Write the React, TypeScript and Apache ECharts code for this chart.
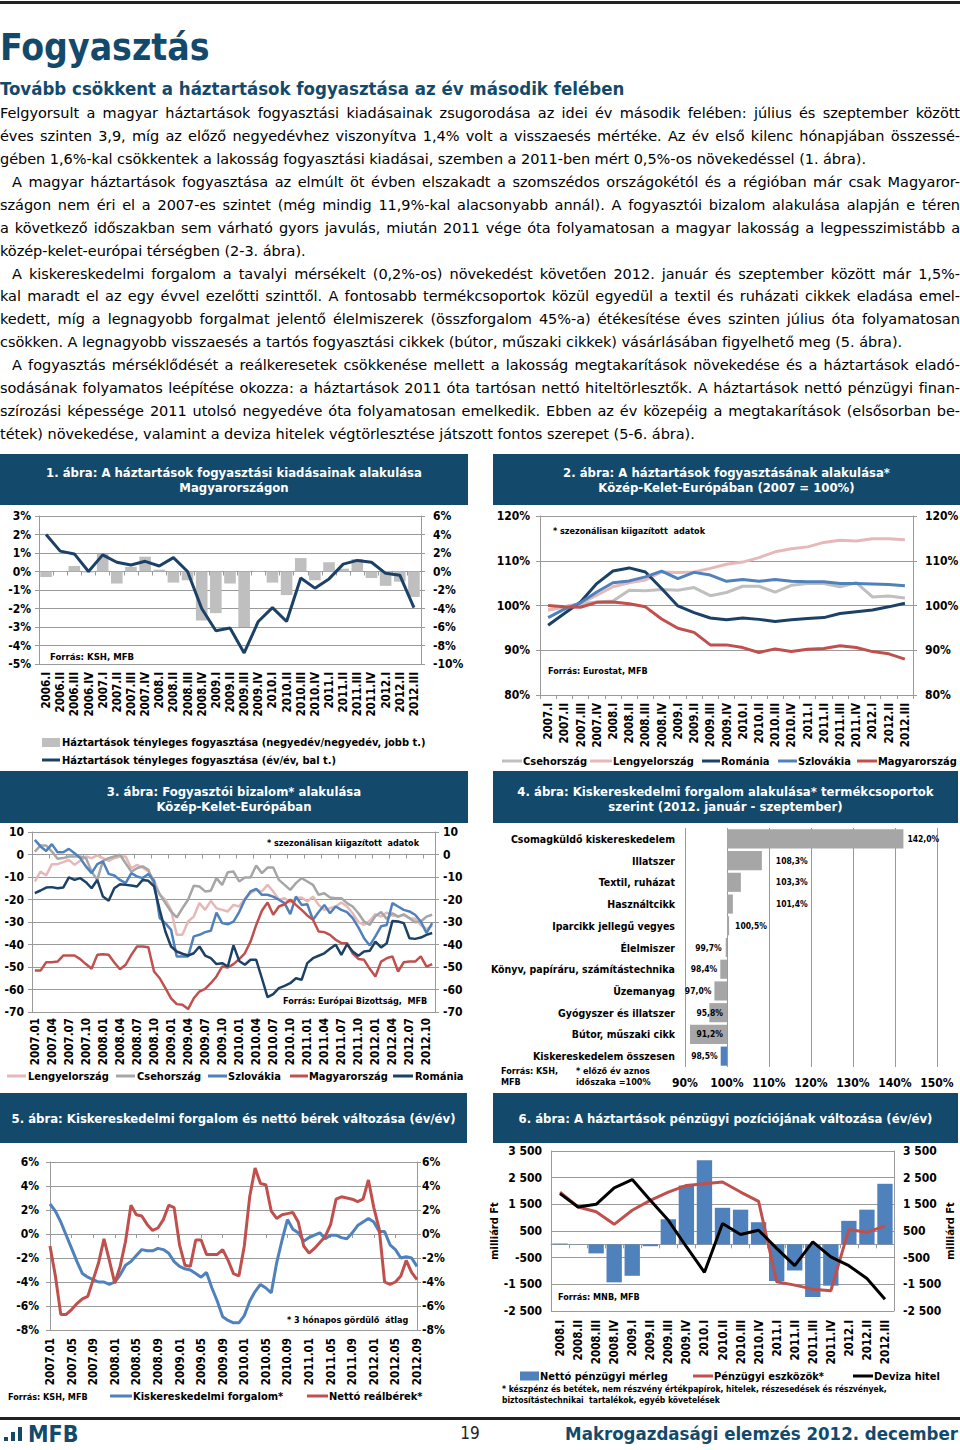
import React, { useEffect, useRef } from "react";
import * as echarts from "echarts";

const FONT = '"DejaVu Sans Condensed", "DejaVu Sans", sans-serif';
const BODY_FONT = '"DejaVu Sans", Verdana, sans-serif';
const NAVY = "#134a6b";
const GRID = "#9a9a9a";
const C_NAVY = "#1c4166";
const C_BLUE = "#4f81bd";
const C_RED = "#c0504d";
const C_PINK = "#e6b9b8";
const C_GRAY = "#bfbfbf";
const C_GRAY2 = "#a6a6a6";

// ---------- 1. ábra
const c1Quarters = ["2006.I","2006.II","2006.III","2006.IV","2007.I","2007.II","2007.III","2007.IV","2008.I","2008.II","2008.III","2008.IV","2009.I","2009.II","2009.III","2009.IV","2010.I","2010.II","2010.III","2010.IV","2011.I","2011.II","2011.III","2011.IV","2012.I","2012.II","2012.III"];
const c1QoQ = [-0.6, 0.05, 0.6, -0.1, 1.9, -1.3, 0.5, 1.6, 0.2, -1.2, -0.95, -5.3, -4.5, -1.3, -6.0, -0.05, -1.2, -2.55, 1.45, -0.95, 1.0, 0.3, 1.35, -0.7, -1.55, -1.1, -2.75];
const c1YoY = [2.0, 1.1, 0.95, 0.0, 0.9, 0.5, 0.35, 0.55, 0.3, 0.75, 0.0, -2.0, -3.2, -3.05, -4.4, -2.7, -1.95, -2.7, -0.35, -0.9, -0.4, 0.4, 0.6, 0.5, -0.1, -0.2, -1.95];

// ---------- 2. ábra
const c2Quarters = ["2007.I","2007.II","2007.III","2007.IV","2008.I","2008.II","2008.III","2008.IV","2009.I","2009.II","2009.III","2009.IV","2010.I","2010.II","2010.III","2010.IV","2011.I","2011.II","2011.III","2011.IV","2012.I","2012.II","2012.III"];
const c2Cseh = [99.0, 99.7, 100.4, 100.8, 101.0, 103.4, 103.3, 103.6, 103.4, 104.0, 102.2, 102.9, 104.3, 104.3, 103.0, 104.5, 104.9, 104.9, 104.2, 105.1, 101.9, 102.1, 101.7];
const c2Lengyel = [99.0, 99.7, 100.4, 102.3, 104.2, 105.1, 105.7, 107.5, 107.4, 107.5, 108.3, 109.2, 109.7, 110.7, 112.0, 112.7, 113.1, 114.1, 114.6, 114.4, 114.9, 114.9, 114.7];
const c2Romania = [95.6, 98.2, 100.8, 104.9, 107.7, 108.4, 107.5, 103.8, 99.9, 98.4, 97.2, 96.8, 97.2, 96.9, 96.4, 96.8, 97.1, 97.3, 98.2, 98.6, 99.0, 99.7, 100.5];
const c2Szlovakia = [97.3, 99.2, 100.6, 103.0, 105.1, 105.5, 106.4, 107.7, 106.0, 107.4, 106.8, 105.4, 105.8, 105.4, 105.8, 105.4, 105.3, 105.3, 104.9, 104.9, 104.8, 104.7, 104.4];
const c2Magyar = [100.0, 99.7, 99.6, 100.7, 100.8, 100.4, 99.7, 97.0, 94.9, 94.0, 91.2, 91.2, 90.6, 89.5, 90.3, 89.7, 90.2, 90.4, 91.0, 90.6, 89.7, 89.2, 88.0];

// ---------- month labels
function monthLabels(y0: number, m0: number, count: number) {
  const out: string[] = [];
  let y = y0, m = m0;
  for (let i = 0; i < count; i++) {
    out.push(y + "." + (m < 10 ? "0" + m : "" + m));
    m++;
    if (m > 12) { m = 1; y++; }
  }
  return out;
}

// ---------- 3. ábra (2007.01 - 2012.11)
const c3Months = monthLabels(2007, 1, 71);
const c3Lengyel = [-12, -7.6, -9.3, -4.3, -4.3, -3.4, -2.4, -4.6, -2.8, -0.9, -1.6, -0.4, -1.6, -2.8, -1.6, -0.9, -0.9, -6.1, -4.6, -5.8, -7.6, -11.3, -17.9, -20.1, -24.6, -35.7, -35.7, -29.8, -27.6, -21.6, -24.6, -20.6, -23.9, -24.6, -25.3, -22.4, -23.1, -19.7, -17.2, -15.7, -16.4, -13.5, -16.4, -20.1, -19.4, -21.3, -19.4, -19.1, -20.9, -18.7, -22.4, -24.6, -23.9, -23.1, -21.3, -23.1, -26.1, -30.1, -31.3, -29.5, -26.5, -27.6, -25.8, -27.1, -27.6, -26.5, -28.3, -28.6, -31.3, -33.2, -31.6];
const c3Cseh = [1.3, 4, 4, 1.3, -1.9, -1.6, -0.9, -0.9, -0.9, -1.6, -7.6, -11.3, -2.8, -1.6, -0.9, -0.1, -3.9, -7.6, -6.1, -5.3, -6.8, -13.2, -17.6, -21.6, -25.3, -28, -23.9, -20.1, -13.9, -14.2, -16.4, -16.1, -10.5, -13.5, -7.9, -7.6, -12, -10.2, -10.2, -4.9, -8.3, -5.8, -5.8, -11.3, -13.5, -15.7, -12.7, -10.5, -12, -13.5, -17.9, -17.2, -19.1, -19.4, -19.4, -21.6, -23.1, -26.1, -29.8, -31.3, -27.4, -25.6, -28.6, -26.1, -27.6, -26.8, -28.3, -30.1, -29.8, -27.6, -26.8];
const c3Szlovakia = [6.5, 3.6, 1.6, 4.6, 1, 1, 2.5, 0.6, -1.6, -5.3, -8.3, -4.3, -3.1, -8.6, -9.3, -11.3, -12.7, -8.3, -9.8, -10.5, -8.7, -11.7, -28.3, -30.5, -33.5, -45.3, -45.3, -45.3, -36.4, -35.7, -34.5, -33.9, -25.8, -30.5, -31, -29.8, -25.6, -20.1, -16.4, -15.3, -17.9, -17.9, -18.7, -20.1, -21.6, -26.5, -18.7, -22.4, -22.1, -29, -25.6, -22.4, -26.1, -23.1, -24.6, -25.6, -28.3, -32.4, -37.2, -40.4, -36.4, -31.9, -31.3, -21.6, -23.1, -24.6, -25.3, -26.8, -29.8, -34.9, -30.5];
const c3Magyar = [-51.6, -51.6, -47.9, -47.9, -47.6, -44.9, -44.9, -44.9, -46.5, -48.7, -50.8, -44.6, -44.3, -44.6, -48, -51, -49, -44.6, -40.9, -40.9, -41.2, -52, -55, -59.4, -63.9, -66.5, -66.8, -68.7, -63.9, -60.9, -59.7, -57.2, -54.2, -49.8, -50.2, -48.7, -46.5, -43.9, -38.7, -31.3, -25, -21.3, -26.8, -23.1, -22.1, -20.1, -22.4, -24.6, -27.1, -29, -34.2, -34.5, -35.7, -37.9, -39.4, -39.4, -43.9, -46.4, -46.8, -50.8, -54.2, -47.6, -46.1, -45.3, -52, -47.9, -47.6, -47.6, -45.3, -49.8, -48.7];
const c3Romania = [-17.2, -16, -14.7, -14.5, -15, -14.7, -10.2, -11.3, -10.5, -12.3, -15, -11.3, -18.7, -20.6, -15, -13.2, -13.5, -13.8, -14.2, -11.3, -11.7, -14.2, -24.6, -34.2, -40.9, -43.1, -44.1, -44.9, -43.9, -40.9, -44.9, -46.1, -48.7, -48.3, -49.8, -40.4, -47.3, -49, -46.8, -46.8, -55, -63.4, -62.1, -59.4, -58.4, -57.2, -55, -55.7, -48.3, -46.1, -45, -43.9, -41.9, -40.1, -44.6, -39.9, -43.1, -45, -43.1, -42.8, -38.7, -41.3, -39.4, -29.5, -29.8, -30.5, -37.2, -37.5, -36.9, -35.7, -34.9];

// ---------- 4. ábra
const c4Categories = ["Csomagküldő kiskereskedelem", "Illatszer", "Textil, ruházat", "Használtcikk", "Iparcikk jellegű vegyes", "Élelmiszer", "Könyv, papíráru, számítástechnika", "Üzemanyag", "Gyógyszer és illatszer", "Bútor, műszaki cikk", "Kiskereskedelem összesen"];
const c4Values = [142.0, 108.3, 103.3, 101.4, 100.5, 99.7, 98.4, 97.0, 95.8, 91.2, 98.5];
const c4Base = 100;

// ---------- 5. ábra (2007.01 - 2012.09)
const c5Months = monthLabels(2007, 1, 69);
const c5Retail = [2.5, 1.9, 1.0, -0.1, -1.2, -2.3, -3.3, -3.6, -3.8, -4.0, -4.0, -4.2, -4.0, -3.4, -2.6, -2.3, -1.8, -1.3, -1.4, -1.4, -1.2, -1.3, -1.6, -2.3, -2.7, -2.9, -3.0, -3.3, -3.6, -3.2, -4.5, -5.6, -6.9, -7.2, -7.4, -7.4, -6.8, -5.6, -4.8, -4.2, -4.5, -4.9, -2.4, -0.5, 1.2, 0.4, 0.1, -0.6, -0.3, -0.1, 0.1, -0.4, -0.1, -0.1, -0.3, -0.4, 0.1, 0.7, 1.0, 1.3, 1.0, 0.2, 0.2, -0.9, -1.3, -2.0, -1.9, -2.0, -2.7];
const c5Wages = [-1.0, -3.5, -6.7, -6.7, -6.3, -5.8, -5.4, -5.2, -3.8, -2.4, -0.4, -2.2, -4.1, -2.7, -0.6, 2.4, 1.6, 1.5, 0.8, 0.3, 0.5, 1.2, 2.4, 2.2, -0.9, -2.6, -2.7, -0.5, -0.5, -1.7, -1.7, -1.7, -1.3, -2.2, -3.3, -3.5, -1.0, 3.1, 5.5, 4.2, 4.1, 1.9, 1.3, 1.6, 1.7, 1.8, 1.0, -1.0, -1.6, -1.2, -0.7, -0.2, 0.8, 2.9, 3.1, 3.0, 2.9, 2.7, 2.9, 4.5, 2.2, 0.4, -4.0, -4.2, -4.0, -3.5, -2.2, -3.2, -3.8];

// ---------- 6. ábra
const c6Quarters = ["2008.I","2008.II","2008.III","2008.IV","2009.I","2009.II","2009.III","2009.IV","2010.I","2010.II","2010.III","2010.IV","2011.I","2011.II","2011.III","2011.IV","2012.I","2012.II","2012.III"];
const c6Net = [30, 10, -340, -1425, -1180, -70, 940, 2210, 3150, 1370, 1300, 830, -1375, -980, -1975, -1550, 880, 1300, 2270];
const c6Assets = [1960, 1400, 1220, 750, 1280, 1650, 1960, 2210, 2275, 2340, 1960, 1610, -1400, -1530, -1680, -1740, 560, 450, 690];
const c6FxLoans = [1900, 1400, 1500, 2120, 2430, 1650, 900, -90, -1050, 780, 370, 530, -150, -800, 90, -470, -800, -1280, -2060];

// ---------- text of the page
const bodyLines: [string, boolean, number][] = [
  ["Felgyorsult a magyar háztartások fogyasztási kiadásainak zsugorodása az idei év második felében: július és szeptember között", true, 0],
  ["éves szinten 3,9, míg az előző negyedévhez viszonyítva 1,4% volt a visszaesés mértéke. Az év első kilenc hónapjában összessé-", true, 0],
  ["gében 1,6%-kal csökkentek a lakosság fogyasztási kiadásai, szemben a 2011-ben mért 0,5%-os növekedéssel (1. ábra).", false, 0],
  ["A magyar háztartások fogyasztása az elmúlt öt évben elszakadt a szomszédos országokétól és a régióban már csak Magyaror-", true, 12],
  ["szágon nem éri el a 2007-es szintet (még mindig 11,9%-kal alacsonyabb annál). A fogyasztói bizalom alakulása alapján e téren", true, 0],
  ["a következő időszakban sem várható gyors javulás, miután 2011 vége óta folyamatosan a magyar lakosság a legpesszimistább a", true, 0],
  ["közép-kelet-európai térségben (2-3. ábra).", false, 0],
  ["A kiskereskedelmi forgalom a tavalyi mérsékelt (0,2%-os) növekedést követően 2012. január és szeptember között már 1,5%-", true, 12],
  ["kal maradt el az egy évvel ezelőtti szinttől. A fontosabb termékcsoportok közül egyedül a textil és ruházati cikkek eladása emel-", true, 0],
  ["kedett, míg a legnagyobb forgalmat jelentő élelmiszerek (összforgalom 45%-a) étékesítése éves szinten július óta folyamatosan", true, 0],
  ["csökken. A legnagyobb visszaesés a tartós fogyasztási cikkek (bútor, műszaki cikkek) vásárlásában figyelhető meg (5. ábra).", false, 0],
  ["A fogyasztás mérséklődését a reálkeresetek csökkenése mellett a lakosság megtakarítások növekedése és a háztartások eladó-", true, 12],
  ["sodásának folyamatos leépítése okozza: a háztartások 2011 óta tartósan nettó hiteltörlesztők. A háztartások nettó pénzügyi finan-", true, 0],
  ["szírozási képessége 2011 utolsó negyedéve óta folyamatosan emelkedik. Ebben az év közepéig a megtakarítások (elsősorban be-", true, 0],
  ["tétek) növekedése, valamint a deviza hitelek végtörlesztése játszott fontos szerepet (5-6. ábra).", false, 0],
];

// ---------- helpers
const lbl = (size: number) => ({ fontFamily: FONT, fontWeight: "bold", fontSize: size, color: "#000" });

function gText(x: number, y: number, text: string, size: number, o: any = {}) {
  const align = o.align || "left";
  return {
    type: "text", x, y, silent: true, rotation: o.rotation || 0,
    style: {
      text, fill: o.color || "#000",
      font: `${o.weight || "bold"} ${size}px ${FONT}`,
      align, verticalAlign: "middle", textAlign: align, textVerticalAlign: "middle",
    },
  };
}
const gLine = (x1: number, x2: number, y: number, color: string, w = 3) => ({
  type: "line", silent: true, shape: { x1, y1: y, x2, y2: y }, style: { stroke: color, lineWidth: w },
});
const gRect = (x: number, y: number, w: number, h: number, fill: string) => ({
  type: "rect", silent: true, shape: { x, y, width: w, height: h }, style: { fill },
});
function banner(x: number, y: number, w: number, h: number, lines: string[], ys: number[]) {
  const els: any[] = [gRect(x, y, w, h, NAVY)];
  lines.forEach((t, i) => els.push(gText(x + w / 2, ys[i], t, 13, { align: "center", color: "#fff" })));
  return els;
}

function thousands(v: number) {
  const s = Math.abs(v).toString().replace(/\B(?=(\d{3})+(?!\d))/g, " ");
  return (v < 0 ? "-" : "") + s;
}
const pctComma = (v: number) => v.toFixed(1).replace(".", ",") + "%";

function valAxis(gridIndex: number, position: string, min: number, max: number, interval: number, formatter: any, margin: number, split: boolean) {
  return {
    type: "value", gridIndex, position, min, max, interval,
    axisLine: { show: true, onZero: false, lineStyle: { color: GRID } },
    axisTick: { show: true, length: 4, lineStyle: { color: GRID } },
    axisLabel: { ...lbl(12), formatter, margin },
    splitLine: { show: split, lineStyle: { color: GRID, width: 1 } },
  };
}
function labelAxis(gridIndex: number, data: string[], interval: number, margin: number, showLine: boolean, boundaryGap = true) {
  return {
    type: "category", gridIndex, data, position: "bottom", boundaryGap,
    axisLine: { show: showLine, onZero: false, lineStyle: { color: GRID } },
    axisTick: { show: showLine, length: 4, interval, lineStyle: { color: GRID } },
    axisLabel: { ...lbl(11.5), rotate: 90, interval, margin },
    splitLine: { show: false },
  };
}
function zeroAxis(gridIndex: number, data: string[], tickInterval: number, boundaryGap = true) {
  return {
    type: "category", gridIndex, data, position: "bottom", boundaryGap,
    axisLine: { show: true, onZero: true, lineStyle: { color: GRID } },
    axisTick: { show: true, length: 4, interval: tickInterval, lineStyle: { color: GRID } },
    axisLabel: { show: false },
    splitLine: { show: false },
  };
}
const lineSeries = (name: string, xi: number, yi: number, data: number[], color: string, width = 3) => ({
  type: "line", name, xAxisIndex: xi, yAxisIndex: yi, data, symbol: "none", showSymbol: false,
  lineStyle: { color, width }, itemStyle: { color }, silent: true,
});

const c4LabelPos = ["right", "right", "right", "right", "right", "left", "left", "left", "insideRight", "insideRight", "left"];
const c4LabelDist = [4, 14, 35, 43, 6, 4, 3, 3, 4, 4, 3];

function buildOption() {
  const grids = [
    { left: 39, top: 516, width: 382, height: 148 },   // 0: 1. ábra
    { left: 540, top: 516, width: 373, height: 179 },  // 1: 2. ábra
    { left: 32, top: 832, width: 403, height: 180 },   // 2: 3. ábra
    { left: 685, top: 828, width: 252, height: 239 },  // 3: 4. ábra
    { left: 50, top: 1162, width: 367, height: 168 },  // 4: 5. ábra
    { left: 551, top: 1151, width: 343, height: 160 }, // 5: 6. ábra
  ].map((g) => ({ ...g, containLabel: false, outerBoundsMode: "none" }));

  const xAxis: any[] = [
    labelAxis(0, c1Quarters, 0, 8, false),          // 0
    zeroAxis(0, c1Quarters, 0),                     // 1
    labelAxis(1, c2Quarters, 0, 8, true),           // 2
    labelAxis(2, c3Months, 2, 6, false),            // 3
    zeroAxis(2, c3Months, 2),                       // 4
    {                                               // 5
      type: "value", gridIndex: 3, position: "bottom", min: 90, max: 150, interval: 10,
      axisLine: { show: false }, axisTick: { show: false },
      axisLabel: { ...lbl(12), formatter: "{value}%", margin: 10 },
      splitLine: { show: true, lineStyle: { color: GRID } },
    },
    labelAxis(4, c5Months, 3, 8, false, false),     // 6
    zeroAxis(4, c5Months, 3, false),                // 7
    labelAxis(5, c6Quarters, 0, 9, false),          // 8
    zeroAxis(5, c6Quarters, 0),                     // 9
  ];

  const c6Fmt = (v: number) => ((v + 2500) % 1000 === 0 ? thousands(v) : "");
  const c6y = (position: string, gap: number) => ({
    type: "value", gridIndex: 5, position, min: -2500, max: 3500, interval: 500,
    axisLine: { show: true, onZero: false, lineStyle: { color: GRID } },
    axisTick: { show: false },
    axisLabel: { ...lbl(12), formatter: c6Fmt, margin: 9 },
    splitLine: { show: position === "left", lineStyle: { color: [GRID, "transparent"], width: 1 } },
    name: "milliárd Ft", nameLocation: "middle", nameRotate: 90, nameGap: gap,
    nameTextStyle: { ...lbl(11) },
  });

  const yAxis: any[] = [
    valAxis(0, "left", -5, 3, 1, "{value}%", 8, true),       // 0
    valAxis(0, "right", -10, 6, 2, "{value}%", 12, false),   // 1
    valAxis(1, "left", 80, 120, 10, "{value}%", 10, true),   // 2
    valAxis(1, "right", 80, 120, 10, "{value}%", 12, false), // 3
    valAxis(2, "left", -70, 10, 10, "{value}", 8, true),     // 4
    valAxis(2, "right", -70, 10, 10, "{value}", 8, false),   // 5
    {                                                        // 6
      type: "category", gridIndex: 3, data: c4Categories, inverse: true,
      axisLine: { show: false }, axisTick: { show: false },
      axisLabel: { ...lbl(10.5), margin: 10 }, splitLine: { show: false },
    },
    valAxis(4, "left", -8, 6, 2, "{value}%", 11, true),      // 7
    valAxis(4, "right", -8, 6, 2, "{value}%", 5, false),     // 8
    c6y("left", 40),                                         // 9
    c6y("right", 51),                                        // 10
  ];

  const c4Last = c4Values.length - 1;
  const series: any[] = [
    // 1. ábra
    { type: "bar", name: "c1q", xAxisIndex: 0, yAxisIndex: 1, data: c1QoQ, barCategoryGap: "18%", itemStyle: { color: C_GRAY }, silent: true },
    lineSeries("c1y", 0, 0, c1YoY, C_NAVY, 3),
    // 2. ábra
    lineSeries("c2cz", 2, 2, c2Cseh, C_GRAY, 3),
    lineSeries("c2pl", 2, 2, c2Lengyel, C_PINK, 3),
    lineSeries("c2ro", 2, 2, c2Romania, C_NAVY, 3),
    lineSeries("c2sk", 2, 2, c2Szlovakia, C_BLUE, 3),
    lineSeries("c2hu", 2, 2, c2Magyar, C_RED, 3),
    // 3. ábra
    lineSeries("c3pl", 3, 4, c3Lengyel, C_PINK, 2.5),
    lineSeries("c3cz", 3, 4, c3Cseh, C_GRAY2, 2.5),
    lineSeries("c3sk", 3, 4, c3Szlovakia, C_BLUE, 2.5),
    lineSeries("c3hu", 3, 4, c3Magyar, C_RED, 2.5),
    lineSeries("c3ro", 3, 4, c3Romania, C_NAVY, 2.5),
    // 4. ábra
    {
      type: "bar", name: "c4base", xAxisIndex: 5, yAxisIndex: 6, stack: "c4", silent: true,
      data: c4Values.map((v) => Math.min(v, c4Base)), barCategoryGap: "12%",
      itemStyle: { color: "transparent" },
    },
    {
      type: "bar", name: "c4", xAxisIndex: 5, yAxisIndex: 6, stack: "c4", silent: true, barCategoryGap: "12%",
      data: c4Values.map((v, i) => ({
        value: Math.abs(v - c4Base),
        itemStyle: { color: i === c4Last ? C_BLUE : C_GRAY2 },
        label: { show: true, position: c4LabelPos[i], distance: c4LabelDist[i], formatter: pctComma(v), ...lbl(8.5) },
      })),
    },
    // 5. ábra
    lineSeries("c5r", 6, 7, c5Retail, C_BLUE, 3),
    lineSeries("c5w", 6, 7, c5Wages, C_RED, 3),
    // 6. ábra
    { type: "bar", name: "c6n", xAxisIndex: 8, yAxisIndex: 9, data: c6Net, barCategoryGap: "15%", itemStyle: { color: C_BLUE }, silent: true },
    lineSeries("c6a", 8, 9, c6Assets, C_RED, 3),
    lineSeries("c6f", 8, 9, c6FxLoans, "#000", 3),
  ];

  const elements: any[] = [
    ...banner(0, 454, 468, 51, ["1. ábra: A háztartások fogyasztási kiadásainak alakulása", "Magyarországon"], [472, 487.5]),
    ...banner(493, 454, 467, 51, ["2. ábra: A háztartások fogyasztásának alakulása*", "Közép-Kelet-Európában (2007 = 100%)"], [472, 487.5]),
    ...banner(0, 771, 468, 52, ["3. ábra: Fogyasztói bizalom* alakulása", "Közép-Kelet-Európában"], [791.5, 806.5]),
    ...banner(493, 771, 465, 52, ["4. ábra: Kiskereskedelmi forgalom alakulása* termékcsoportok", "szerint (2012. január - szeptember)"], [791.5, 806.5]),
    ...banner(0, 1093, 467, 50, ["5. ábra: Kiskereskedelmi forgalom és nettó bérek változása (év/év)"], [1118]),
    ...banner(493, 1093, 465, 50, ["6. ábra: A háztartások pénzügyi pozíciójának változása (év/év)"], [1118]),

    // 1. ábra
    gText(50, 656, "Forrás: KSH, MFB", 9.5),
    gRect(42, 738, 18, 9, C_GRAY),
    gText(62, 742.5, "Háztartások tényleges fogyasztása (negyedév/negyedév, jobb t.)", 11),
    gLine(42, 60, 760, C_NAVY, 3),
    gText(62, 760, "Háztartások tényleges fogyasztása (év/év, bal t.)", 11),

    // 2. ábra
    gText(553, 531, "* szezonálisan kiigazított  adatok", 9),
    gText(548, 671, "Forrás: Eurostat, MFB", 9),
    gLine(502, 522, 761, C_GRAY), gText(523, 761, "Csehország", 11),
    gLine(590, 612, 761, C_PINK), gText(613, 761, "Lengyelország", 11),
    gLine(702, 720, 761, C_NAVY), gText(721, 761, "Románia", 11),
    gLine(778, 797, 761, C_BLUE), gText(798, 761, "Szlovákia", 11),
    gLine(857, 877, 761, C_RED), gText(878, 761, "Magyarország", 11),

    // 3. ábra
    gText(267, 843, "* szezonálisan kiigazított  adatok", 9),
    gText(283, 1001, "Forrás: Európai Bizottság,  MFB", 9),
    gLine(7, 26, 1076, C_PINK), gText(28, 1076, "Lengyelország", 11),
    gLine(116, 135, 1076, C_GRAY2), gText(137, 1076, "Csehország", 11),
    gLine(208, 227, 1076, C_BLUE), gText(228, 1076, "Szlovákia", 11),
    gLine(290, 308, 1076, C_RED), gText(309, 1076, "Magyarország", 11),
    gLine(393, 413, 1076, C_NAVY), gText(415, 1076, "Románia", 11),

    // 4. ábra
    gText(501, 1070.5, "Forrás: KSH,", 9),
    gText(501, 1082, "MFB", 9),
    gText(576, 1070.5, "* előző év aznos", 9),
    gText(576, 1082, "időszaka =100%", 9),

    // 5. ábra
    gText(287, 1320, "* 3 hónapos gördülő  átlag", 9),
    gText(8, 1397, "Forrás: KSH, MFB", 9),
    gLine(110, 132, 1396, C_BLUE), gText(133, 1396, "Kiskereskedelmi forgalom*", 11),
    gLine(307, 328, 1396, C_RED), gText(329, 1396, "Nettó reálbérek*", 11),

    // 6. ábra
    gText(558, 1297, "Forrás: MNB, MFB", 9),
    gRect(520, 1371.5, 19, 9, C_BLUE), gText(540, 1376, "Nettó pénzügyi mérleg", 11),
    gLine(693, 713, 1376, C_RED), gText(714, 1376, "Pénzügyi eszközök*", 11),
    gLine(853, 873, 1376, "#000"), gText(874, 1376, "Deviza hitel", 11),
    gText(502, 1389, "* készpénz és betétek, nem részvény értékpapírok, hitelek, részesedések és részvények,", 8.5),
    gText(502, 1400, "biztosítástechnikai  tartalékok, egyéb követelések", 8.5),
  ];

  return {
    animation: false,
    backgroundColor: "transparent",
    textStyle: { fontFamily: FONT },
    grid: grids,
    xAxis,
    yAxis,
    series,
    graphic: { elements },
  };
}

export default function App() {
  const ref = useRef<HTMLDivElement>(null);
  useEffect(() => {
    const chart = echarts.init(ref.current as HTMLDivElement, undefined, { renderer: "svg", width: 960, height: 1450 });
    chart.setOption(buildOption() as any);
    return () => chart.dispose();
  }, []);

  const lineTop = (i: number) => 113 + 22.93 * i;
  return (
    <div style={{ position: "absolute", left: 0, top: 0, width: 960, height: 1450, background: "#fff", overflow: "hidden", fontFamily: FONT }}>
      <div ref={ref} style={{ position: "absolute", left: 0, top: 0, width: 960, height: 1450 }} />
      <div style={{ position: "absolute", left: 0, top: 1, width: 960, height: 3, background: "#222" }} />
      <div style={{ position: "absolute", left: 0, top: 26, height: 44, lineHeight: "44px", fontSize: 37, fontWeight: "bold", color: NAVY, whiteSpace: "nowrap" }}>Fogyasztás</div>
      <div style={{ position: "absolute", left: 0, top: 77, height: 24, lineHeight: "24px", fontSize: 18.5, fontWeight: "bold", color: NAVY, whiteSpace: "nowrap" }}>Tovább csökkent a háztartások fogyasztása az év második felében</div>
      {bodyLines.map(([t, just, indent], i) => (
        <div key={i} style={{
          position: "absolute", left: indent, top: lineTop(i) - 11, width: 960 - indent, height: 22, lineHeight: "22px",
          fontFamily: BODY_FONT, fontSize: 14.5, letterSpacing: "-0.05px", color: "#000", whiteSpace: "nowrap",
          textAlign: just ? "justify" : "left", textAlignLast: just ? "justify" : "left",
        } as any}>{t}</div>
      ))}
      <div style={{ position: "absolute", left: 0, top: 1417, width: 960, height: 3, background: "#222" }} />
      <div style={{ position: "absolute", left: 4, top: 1437, width: 4, height: 4, background: NAVY }} />
      <div style={{ position: "absolute", left: 11, top: 1432, width: 4, height: 9, background: NAVY }} />
      <div style={{ position: "absolute", left: 18, top: 1427, width: 4, height: 14, background: NAVY }} />
      <div style={{ position: "absolute", left: 28, top: 1421, height: 26, lineHeight: "26px", fontSize: 23, fontWeight: "bold", color: NAVY }}>MFB</div>
      <div style={{ position: "absolute", left: 440, width: 60, textAlign: "center", top: 1422, height: 22, lineHeight: "22px", fontSize: 17, color: "#222" }}>19</div>
      <div style={{ position: "absolute", right: 2, top: 1423, height: 22, lineHeight: "22px", fontSize: 18.5, fontWeight: "bold", color: NAVY, whiteSpace: "nowrap" }}>Makrogazdasági elemzés 2012. december</div>
    </div>
  );
}
